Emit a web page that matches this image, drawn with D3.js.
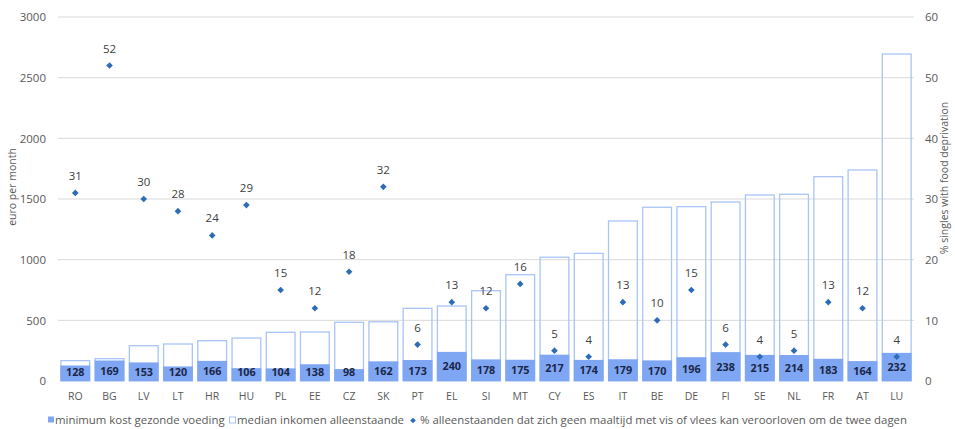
<!DOCTYPE html>
<html>
<head>
<meta charset="utf-8">
<script src="https://cdn.jsdelivr.net/npm/d3@7/dist/d3.min.js"></script>
<style>
  html, body { margin: 0; padding: 0; background: #fff; }
  svg { display: block; font-family: "Open Sans", "Noto Sans", sans-serif; }
</style>
</head>
<body>
<svg id="chart" width="955" height="429"></svg>
<script>
// Countries, ordered by median income of single-person households
const countries = ["RO","BG","LV","LT","HR","HU","PL","EE","CZ","SK","PT","EL","SI","MT","CY","ES","IT","BE","DE","FI","SE","NL","FR","AT","LU"];

// Minimum cost of a healthy diet (euro per month)
const foodCost = [128,169,153,120,166,106,104,138,98,162,173,240,178,175,217,174,179,170,196,238,215,214,183,164,232];

// Median income of single persons (euro per month)
const medianIncome = [168,184,291,305,332,354,401,404,484,488,599,618,744,876,1020,1052,1319,1432,1437,1475,1533,1539,1684,1739,2695];

// % of singles who cannot afford a meal with fish or meat every second day
const deprivation = [31,52,30,28,24,29,15,12,18,32,6,13,12,16,5,4,13,10,15,6,4,5,13,12,4];

const leftTicks = [0,500,1000,1500,2000,2500,3000];
const rightTicks = [0,10,20,30,40,50,60];

const legendLabels = [
  "minimum kost gezonde voeding",
  "median inkomen alleenstaande",
  "% alleenstaanden dat zich geen maaltijd met vis of vlees kan veroorloven om de twee dagen"
];

const svg = d3.select("#chart");
const plot = { left: 58, right: 914, top: 17, bottom: 381 };

const x = d3.scaleBand().domain(countries).range([plot.left, plot.right])
  .paddingInner(0.13).paddingOuter(0.07);
const yL = d3.scaleLinear().domain([0, 3000]).range([plot.bottom, plot.top]);
const yR = d3.scaleLinear().domain([0, 60]).range([plot.bottom, plot.top]);

const axisGrey = "#595959";
const fillBlue = "#7ea6f3";
const outlineBlue = "#a9c4f6";
const dotBlue = "#2e6db6";

// horizontal gridlines
svg.append("g").selectAll("line").data(leftTicks.filter(d => d > 0)).join("line")
  .attr("x1", plot.left).attr("x2", plot.right)
  .attr("y1", d => yL(d)).attr("y2", d => yL(d))
  .attr("stroke", "#d9d9d9").attr("stroke-width", 1);

// left axis
const gL = svg.append("g").attr("transform", `translate(${plot.left - 12},0)`)
  .call(d3.axisLeft(yL).tickValues(leftTicks).tickFormat(d3.format("d")).tickSize(0).tickPadding(0));
gL.select(".domain").remove();
gL.selectAll("text").attr("fill", axisGrey).attr("font-size", 11.5)
  .attr("font-family", "Open Sans, sans-serif");

// right axis
const gR = svg.append("g").attr("transform", `translate(${plot.right + 11},0)`)
  .call(d3.axisRight(yR).tickValues(rightTicks).tickFormat(d3.format("d")).tickSize(0).tickPadding(0));
gR.select(".domain").remove();
gR.selectAll("text").attr("fill", axisGrey).attr("font-size", 11.5)
  .attr("font-family", "Open Sans, sans-serif");

// axis titles
svg.append("text")
  .attr("transform", "translate(16,187) rotate(-90)")
  .attr("text-anchor", "middle").attr("fill", axisGrey).attr("font-size", 10.5)
  .text("euro  per month");
svg.append("text")
  .attr("transform", "translate(948,178) rotate(-90)")
  .attr("text-anchor", "middle").attr("fill", axisGrey).attr("font-size", 10.5)
  .text("% singles with food deprivation");

// median income bars (outline only)
svg.append("g").selectAll("rect").data(countries).join("rect")
  .attr("x", d => x(d) + 0.5)
  .attr("y", (d, i) => yL(medianIncome[i]))
  .attr("width", x.bandwidth() - 1)
  .attr("height", (d, i) => yL(0) - yL(medianIncome[i]))
  .attr("fill", "none").attr("stroke", outlineBlue).attr("stroke-width", 1.3);

// minimum food cost bars
svg.append("g").selectAll("rect").data(countries).join("rect")
  .attr("x", d => x(d))
  .attr("y", (d, i) => yL(foodCost[i]))
  .attr("width", x.bandwidth())
  .attr("height", (d, i) => yL(0) - yL(foodCost[i]))
  .attr("fill", fillBlue);

// food cost value labels, centred in the bars
svg.append("g").selectAll("text").data(countries).join("text")
  .attr("x", d => x(d) + x.bandwidth() / 2)
  .attr("y", (d, i) => Math.min(yL(foodCost[i] / 2), yL(0) - 9) + 4)
  .attr("text-anchor", "middle").attr("font-size", 10.8).attr("font-weight", 700)
  .attr("fill", "#1b2748")
  .text((d, i) => foodCost[i]);

// deprivation markers: small squares turned 45 degrees
const marker = d3.symbol().type(d3.symbolSquare).size(22);
svg.append("g").selectAll("path").data(countries).join("path")
  .attr("transform", (d, i) => `translate(${x(d) + x.bandwidth() / 2},${yR(deprivation[i])}) rotate(45)`)
  .attr("d", marker).attr("fill", dotBlue);

// deprivation labels
svg.append("g").selectAll("text").data(countries).join("text")
  .attr("x", d => x(d) + x.bandwidth() / 2)
  .attr("y", (d, i) => yR(deprivation[i]) - 13)
  .attr("text-anchor", "middle").attr("font-size", 11.5).attr("fill", "#404040")
  .text((d, i) => deprivation[i]);

// category labels
svg.append("g").selectAll("text").data(countries).join("text")
  .attr("x", d => x(d) + x.bandwidth() / 2)
  .attr("y", 400)
  .attr("text-anchor", "middle").attr("font-size", 10.5).attr("fill", axisGrey)
  .text(d => d);

// legend
const lg = svg.append("g").attr("font-size", 11.4).attr("fill", axisGrey);
const ly = 420;
lg.append("rect").attr("x", 48).attr("y", ly - 3.5).attr("width", 6).attr("height", 6).attr("fill", fillBlue);
lg.append("text").attr("x", 55).attr("y", ly + 4).text(legendLabels[0]);
lg.append("rect").attr("x", 229.5).attr("y", ly - 3).attr("width", 6).attr("height", 6)
  .attr("fill", "none").attr("stroke", outlineBlue).attr("stroke-width", 1);
lg.append("text").attr("x", 237).attr("y", ly + 4).text(legendLabels[1]);
lg.append("path").attr("transform", `translate(413,${ly + 0.5}) rotate(45)`)
  .attr("d", d3.symbol().type(d3.symbolSquare).size(16)).attr("fill", dotBlue);
lg.append("text").attr("x", 420).attr("y", ly + 4).text(legendLabels[2]);
</script>
</body>
</html>
